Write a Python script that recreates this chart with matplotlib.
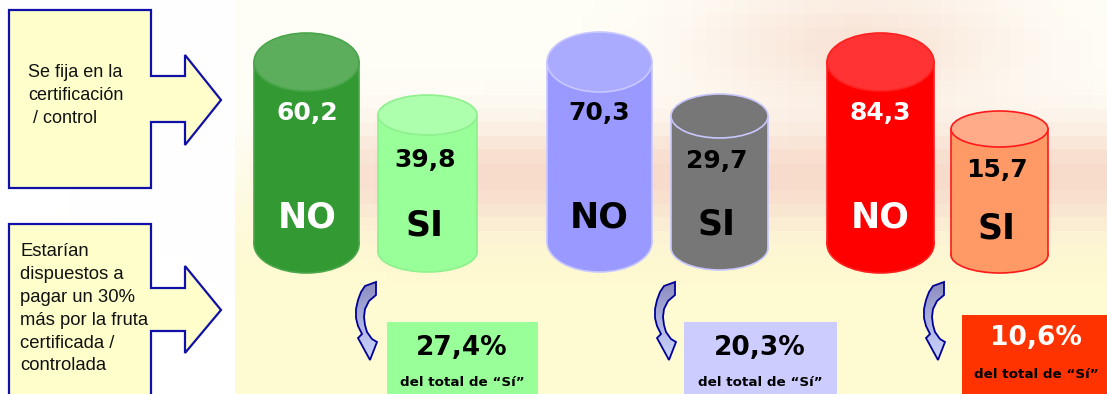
import numpy as np
import matplotlib.pyplot as plt
from matplotlib.patches import Polygon, Ellipse, Rectangle

# ---- values -------------------------------------------------------------
no_vals = [60.2, 70.3, 84.3]          # % that do NOT look at the certification
si_vals = [39.8, 29.7, 15.7]          # % that do
si_pay = [27.4, 20.3, 10.6]           # % of the "Sí" group willing to pay 30% more

side_top = ["Se fija en la", "certificación", " / control"]
side_bottom = ["Estarían", "dispuestos a", "pagar un 30%", "más por la fruta",
               "certificada /", "controlada"]
sub_label = "del total de \u201cSí\u201d"


def fmt(v, suffix=""):
    return f"{v:.1f}".replace(".", ",") + suffix


# ---- styling per group ----------------------------------------------------
groups = [
    dict(no=(254, 359, 62, 29, 244), si=(378, 477, 115, 20, 252),
         no_body="#339933", no_top="#5cad5c", no_edge="#4aa64a", no_txt="white",
         si_body="#99ff99", si_top="#adffad", si_edge="#8ef08e",
         box=(387, 538, 322), box_col="#99ff99", pct_txt="black",
         arrow=(355, 282), no_txt_x=307, si_txt_x=425, si_num_y=160, si_lab_y=225,
         pct_xy=(462, 348, 382)),
    dict(no=(547, 652, 62, 30, 242), si=(671, 768, 116, 22, 248),
         no_body="#9999ff", no_top="#aaaaff", no_edge="#c8c8ff", no_txt="black",
         si_body="#777777", si_top="#777777", si_edge="#c8c8ff",
         box=(684, 837, 322), box_col="#ccccff", pct_txt="black",
         arrow=(654, 282), no_txt_x=599, si_txt_x=717, si_num_y=161, si_lab_y=224,
         pct_xy=(760, 348, 382)),
    dict(no=(827, 934, 62, 29, 244), si=(951, 1048, 129, 18, 255),
         no_body="#ff0000", no_top="#ff3333", no_edge="#ff2020", no_txt="white",
         si_body="#ff9966", si_top="#ffaa88", si_edge="#ff1a1a",
         box=(962, 1107, 315), box_col="#ff3300", pct_txt="white",
         arrow=(923, 282), no_txt_x=880, si_txt_x=997, si_num_y=170, si_lab_y=228,
         pct_xy=(1036, 338, 375)),
]

W, H = 1107, 394
fig = plt.figure(figsize=(W / 100, H / 100), dpi=100)
ax = fig.add_axes([0, 0, 1, 1])
ax.set_xlim(0, W)
ax.set_ylim(H, 0)
ax.axis("off")

# ---- blocky pastel background --------------------------------------------
blk = 14
yy, xx = np.mgrid[0:H:blk, 0:W:blk].astype(float)
white = np.array([1.0, 1.0, 1.0])
yellow = np.array([1.0, 0.985, 0.84])
peach = np.array([0.965, 0.84, 0.78])
w_y = np.clip((yy - 120) / 140, 0, 1) * 0.9 + 0.2
xr = np.clip((xx - 230) / 160, 0, 1)
w_p = np.exp(-((yy - 175) / 55) ** 2) * xr * 0.85
w_p += np.exp(-((xx - 860) / 150) ** 2 - ((yy - 40) / 60) ** 2) * 0.65
w_p = np.clip(w_p, 0, 0.9)
w_y = w_y * (xx > 225)
bg = (white * (1 - w_y[..., None]) + yellow * w_y[..., None])
bg = bg * (1 - w_p[..., None]) + peach * w_p[..., None]
ax.imshow(bg, extent=[0, W, H, 0], interpolation="nearest", aspect="auto", zorder=0)

# ---- side callout arrows -------------------------------------------------
edge_blue = "#1010a8"
call_top = [(9, 10), (151, 10), (151, 76), (185, 76), (185, 55), (221, 100),
            (185, 145), (185, 122), (151, 122), (151, 188), (9, 188)]
call_bot = [(9, 224), (151, 224), (151, 288), (185, 288), (185, 266), (221, 310),
            (185, 353), (185, 331), (151, 331), (151, 410), (9, 410)]
for pts in (call_top, call_bot):
    ax.add_patch(Polygon(pts, closed=True, facecolor="#ffffcc", edgecolor=edge_blue,
                         lw=1.6, zorder=2))

for i, line in enumerate(side_top):
    ax.text(28, 72 + i * 23, line, fontsize=13, family="Liberation Sans",
            va="center", ha="left", color="#111111", zorder=3)
for i, line in enumerate(side_bottom):
    ax.text(20, 252 + i * 22.8, line, fontsize=13.3, family="Liberation Sans",
            va="center", ha="left", color="#111111", zorder=3)


# ---- cylinders -------------------------------------------------------------
def cylinder(x0, x1, ytop, ry, ybot, body, top, edge):
    cx, w = (x0 + x1) / 2, x1 - x0
    ax.add_patch(Ellipse((cx, ybot), w, 2 * ry, facecolor=body, edgecolor=edge,
                         lw=1.2, zorder=2))
    ax.add_patch(Rectangle((x0, ytop), w, ybot - ytop, facecolor=body,
                           edgecolor="none", zorder=2))
    ax.plot([x0, x0], [ytop, ybot], color=edge, lw=1.2, zorder=2)
    ax.plot([x1, x1], [ytop, ybot], color=edge, lw=1.2, zorder=2)
    ax.add_patch(Ellipse((cx, ytop), w, 2 * ry, facecolor=top, edgecolor=edge,
                         lw=1.2, zorder=2))


# curved "C" arrow outline, offsets in pixels from its top-left corner
c_arrow = [(10, 4), (6, 10), (3, 18), (1, 27), (1, 36), (3, 44), (7, 52),
           (3, 56), (15, 78), (22, 60), (17, 57), (12, 50), (10, 43), (9, 35),
           (10, 27), (14, 19), (21, 13), (21, 0)]
grad = np.linspace(0, 1, 64)[:, None, None]
g_top, g_bot = np.array([0.55, 0.55, 0.75]), np.array([0.80, 0.84, 1.0])
grad_img = np.repeat(g_top * (1 - grad) + g_bot * grad, 2, axis=1)

for k, g in enumerate(groups):
    x0, x1, yt, ry, yb = g["no"]
    cylinder(x0, x1, yt, ry, yb, g["no_body"], g["no_top"], g["no_edge"])
    ax.text(g["no_txt_x"], 113, fmt(no_vals[k]), fontsize=18, fontweight="bold",
            color=g["no_txt"], ha="center", va="center", zorder=4)
    ax.text(g["no_txt_x"], 217, "NO", fontsize=25, fontweight="bold",
            color=g["no_txt"], ha="center", va="center", zorder=4)

    x0, x1, yt, ry, yb = g["si"]
    cylinder(x0, x1, yt, ry, yb, g["si_body"], g["si_top"], g["si_edge"])
    ax.text(g["si_txt_x"], g["si_num_y"], fmt(si_vals[k]), fontsize=18,
            fontweight="bold", color="black", ha="center", va="center", zorder=4)
    ax.text(g["si_txt_x"], g["si_lab_y"], "SI", fontsize=25, fontweight="bold",
            color="black", ha="center", va="center", zorder=4)

    # result box
    bx0, bx1, by0 = g["box"]
    ax.add_patch(Rectangle((bx0, by0), bx1 - bx0, H + 5 - by0, facecolor=g["box_col"],
                           edgecolor="none", zorder=2))
    px, py1, py2 = g["pct_xy"]
    ax.text(px, py1, fmt(si_pay[k], "%"), fontsize=19, fontweight="bold",
            color=g["pct_txt"], ha="center", va="center", zorder=4)
    ax.text(px, py2, sub_label, fontsize=9.7, fontweight="bold", color="black",
            ha="center", va="center", zorder=4)

    # curved arrow with gradient fill
    ox, oy = g["arrow"]
    pts = [(ox + dx, oy + dy) for dx, dy in c_arrow]
    arrow = Polygon(pts, closed=True, facecolor="none", edgecolor="#000099",
                    lw=1.3, zorder=4)
    ax.add_patch(arrow)
    im = ax.imshow(grad_img, extent=[ox, ox + 23, oy + 79, oy], aspect="auto",
                   interpolation="bilinear", zorder=3)
    im.set_clip_path(arrow)

fig.savefig("out.png", dpi=100)
